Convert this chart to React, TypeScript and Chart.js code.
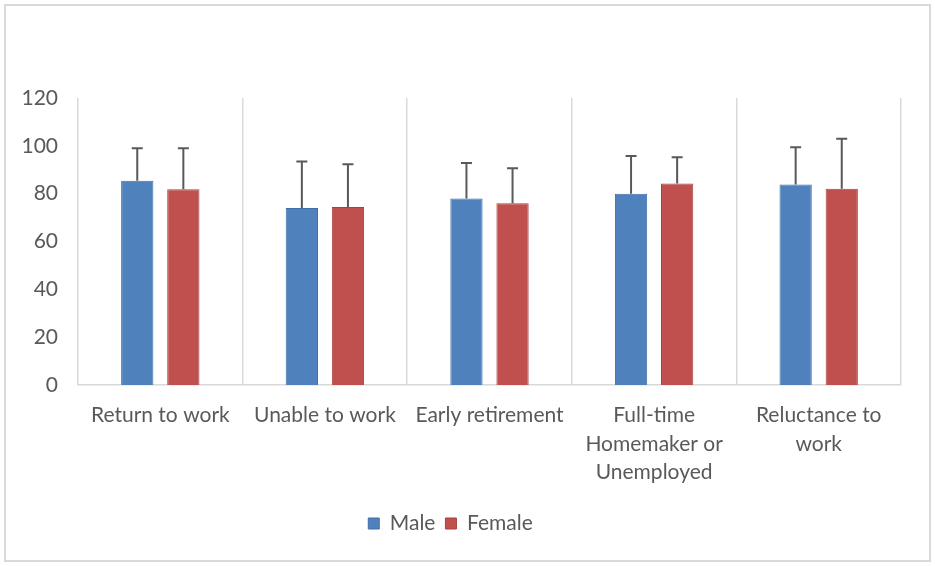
import React, { useEffect, useRef } from "react";
import { Chart, registerables } from "chart.js";

Chart.register(...registerables);

const categories: (string | string[])[] = [
  "Return to work",
  "Unable to work",
  "Early retirement",
  ["Full-time", "Homemaker or", "Unemployed"],
  ["Reluctance to", "work"],
];
const maleValues = [85.4, 74.0, 78.0, 80.0, 83.8];
const femaleValues = [81.8, 74.4, 76.0, 84.2, 82.1];
const maleErrors = [13.6, 19.4, 14.8, 15.7, 15.6];
const femaleErrors = [17.2, 17.9, 14.6, 11.0, 20.9];
const yTicks = [0, 20, 40, 60, 80, 100, 120];

const FONT = "Lato";
const TEXT = "#595959";
const GRID = "#d9d9d9";

const errorBarPlugin = {
  id: "errorBars",
  afterDatasetsDraw(chart: any) {
    const ctx = chart.ctx;
    const yScale = chart.scales.y;
    chart.data.datasets.forEach((ds: any, di: number) => {
      const meta = chart.getDatasetMeta(di);
      const errs: number[] = ds.errors || [];
      meta.data.forEach((bar: any, i: number) => {
        const v = ds.data[i];
        const e = errs[i];
        if (e == null) return;
        const x = bar.x;
        const y0 = yScale.getPixelForValue(v);
        const y1 = yScale.getPixelForValue(v + e);
        ctx.save();
        ctx.strokeStyle = TEXT;
        ctx.lineWidth = 2;
        ctx.beginPath();
        ctx.moveTo(x, y0);
        ctx.lineTo(x, y1);
        ctx.moveTo(x - 5.5, y1);
        ctx.lineTo(x + 5.5, y1);
        ctx.stroke();
        ctx.restore();
      });
    });
  },
};

const framePlugin = {
  id: "frame",
  beforeDraw(chart: any) {
    const ctx = chart.ctx;
    ctx.save();
    ctx.fillStyle = "#ffffff";
    ctx.fillRect(0, 0, chart.width, chart.height);
    ctx.strokeStyle = GRID;
    ctx.lineWidth = 2;
    ctx.strokeRect(5, 5, chart.width - 10, chart.height - 10);
    ctx.restore();
  },
};

export default function App() {
  const ref = useRef<HTMLCanvasElement | null>(null);

  useEffect(() => {
    document.body.style.margin = "0";
    if (!ref.current) return;
    const chart = new Chart(ref.current, {
      type: "bar",
      data: {
        labels: categories,
        datasets: [
          {
            label: "Male",
            data: maleValues,
            errors: maleErrors,
            backgroundColor: "#4F81BD",
            borderColor: "#3F6FA8",
            borderWidth: 1,
            categoryPercentage: 0.56,
            barPercentage: 0.7,
          } as any,
          {
            label: "Female",
            data: femaleValues,
            errors: femaleErrors,
            backgroundColor: "#C0504D",
            borderColor: "#A8403D",
            borderWidth: 1,
            categoryPercentage: 0.56,
            barPercentage: 0.7,
          } as any,
        ],
      },
      options: {
        animation: false,
        responsive: false,
        maintainAspectRatio: false,
        devicePixelRatio: 1,
        layout: { padding: { top: 98, right: 34, bottom: 22, left: 0 } },
        plugins: {
          legend: {
            position: "bottom",
            labels: {
              boxWidth: 11,
              boxHeight: 11,
              padding: 10,
              color: TEXT,
              font: { family: FONT, size: 21 },
            },
          },
          tooltip: { enabled: false },
        },
        scales: {
          x: {
            grid: { offset: true, color: GRID, lineWidth: 1.5, drawTicks: false },
            border: { display: true, color: GRID, width: 1.5 },
            ticks: {
              color: TEXT,
              font: { family: FONT, size: 21, lineHeight: 1.36 },
              padding: 16,
              autoSkip: false,
              maxRotation: 0,
              minRotation: 0,
            },
            afterFit(scale: any) {
              scale.height = 118;
            },
          },
          y: {
            min: 0,
            max: 120,
            grid: { display: false, drawTicks: false },
            border: { display: false },
            afterBuildTicks(scale: any) {
              scale.ticks = yTicks.map((v) => ({ value: v }));
            },
            ticks: {
              color: TEXT,
              font: { family: FONT, size: 21 },
              padding: 20,
            },
            afterFit(scale: any) {
              scale.width = 78;
            },
          },
        },
      },
      plugins: [errorBarPlugin, framePlugin],
    } as any);
    return () => chart.destroy();
  }, []);

  return (
    <div style={{ width: 935, height: 566, position: "relative" }}>
      <canvas ref={ref} width={935} height={566} style={{ display: "block" }} />
    </div>
  );
}
